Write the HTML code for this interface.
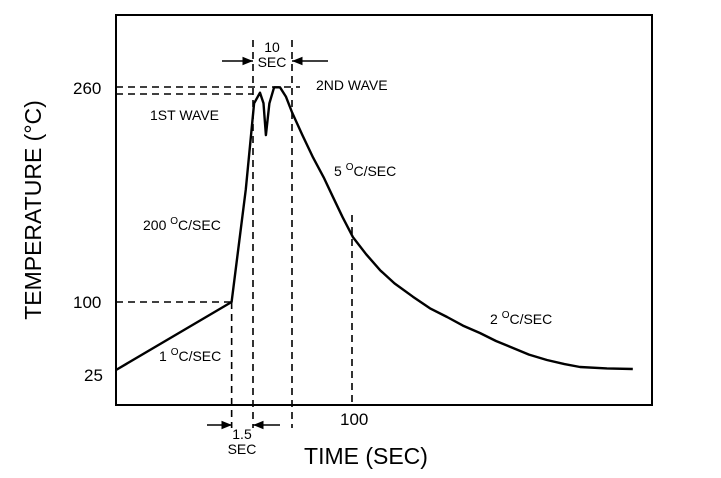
<!DOCTYPE html>
<html><head><meta charset="utf-8"><style>
html,body{margin:0;padding:0;background:#fff;}
svg{display:block;font-family:"Liberation Sans",Arial,sans-serif;}
</style></head><body>
<svg id="chart" width="721" height="478" viewBox="0 0 721 478">
<defs>
<marker id="ah" viewBox="0 0 10 10" refX="10" refY="5" markerWidth="7" markerHeight="7" orient="auto"><path d="M0,1 L10,5 L0,9 z" fill="#000"/></marker>
</defs>
<rect x="116" y="15" width="536" height="390" fill="none" stroke="#000" stroke-width="2"/>
<g id="guides" stroke="#000" stroke-width="1.6" stroke-dasharray="7,5" fill="none"></g>
<path id="curve" fill="none" stroke="#000" stroke-width="2.4" stroke-linejoin="round"/>
<g font-size="17" fill="#000">
<text x="73" y="94">260</text>
<text x="73" y="308">100</text>
<text x="84" y="381">25</text>
<text x="340" y="425">100</text>
</g>
<text x="41" y="210" font-size="23" text-anchor="middle" transform="rotate(-90 41 210)">TEMPERATURE (°C)</text>
<text x="366" y="464" font-size="23" text-anchor="middle">TIME (SEC)</text>
<g font-size="14" fill="#000">
<text x="150" y="120">1ST WAVE</text>
<text x="316" y="90">2ND WAVE</text>
<text x="143" y="230">200 <tspan font-size="10" dy="-6">O</tspan><tspan dy="6">C/SEC</tspan></text>
<text x="334" y="176">5 <tspan font-size="10" dy="-6">O</tspan><tspan dy="6">C/SEC</tspan></text>
<text x="490" y="324">2 <tspan font-size="10" dy="-6">O</tspan><tspan dy="6">C/SEC</tspan></text>
<text x="159" y="361">1 <tspan font-size="10" dy="-6">O</tspan><tspan dy="6">C/SEC</tspan></text>
<text x="272" y="52" text-anchor="middle">10</text>
<text x="272" y="67" text-anchor="middle">SEC</text>
<text x="242" y="439" text-anchor="middle">1.5</text>
<text x="242" y="454" text-anchor="middle">SEC</text>
</g>
<g stroke="#000" stroke-width="1.5">
<line x1="222" y1="61" x2="253" y2="61" marker-end="url(#ah)"/>
<line x1="328" y1="61" x2="292" y2="61" marker-end="url(#ah)"/>
<line x1="207" y1="425" x2="232" y2="425" marker-end="url(#ah)"/>
<line x1="280" y1="425" x2="253" y2="425" marker-end="url(#ah)"/>
</g>
</svg>
<script>
const times = [0, 49, 55, 58.5, 61, 62.5, 63.5, 65, 67, 69.5, 72, 74.6, 79, 83.5, 88, 92, 96, 100.4, 106, 111.9, 118, 125.8, 133, 140.3, 147, 154.2, 161, 168.2, 175, 182.6, 190, 196.6, 208, 219];
const temps = [25, 100, 185, 250, 258, 250, 226, 250, 262, 262, 255, 243, 226, 209, 194, 179, 164, 149, 136, 124, 114, 104, 93, 83.5, 74, 65.8, 57, 49.3, 42, 36, 31.5, 28.3, 26.8, 26.1];
const yTicks = [25, 100, 260];
function xs(t){ return 116 + t*2.36; }
function ys(v){
  if (v <= 100) return 370 - (v-25)*68/75;
  return 302 - (v-100)*212/160;
}
let d = '';
for (let i=0;i<times.length;i++){ d += (i?' L':'M') + xs(times[i]).toFixed(1) + ',' + ys(temps[i]).toFixed(1); }
document.getElementById('curve').setAttribute('d', d);
const g = document.getElementById('guides');
const ns = 'http://www.w3.org/2000/svg';
function ln(x1,y1,x2,y2,name){
  const l = document.createElementNS(ns,'line');
  l.setAttribute('x1',x1); l.setAttribute('y1',y1); l.setAttribute('x2',x2); l.setAttribute('y2',y2);
  
  
  g.appendChild(l);
}
ln(116, ys(100), xs(49), ys(100), 'guide-100');
ln(116, 87, 300, 87, 'guide-260-peak2');
ln(116, 94, 253, 94, 'guide-260-peak1');
ln(xs(49), ys(100), xs(49), 428, 'guide-t49');
ln(253, 40, 253, 428, 'guide-t58');
ln(292, 40, 292, 428, 'guide-t75');
ln(xs(100), 215, xs(100), 405, 'guide-t100');
</script>
</body></html>
